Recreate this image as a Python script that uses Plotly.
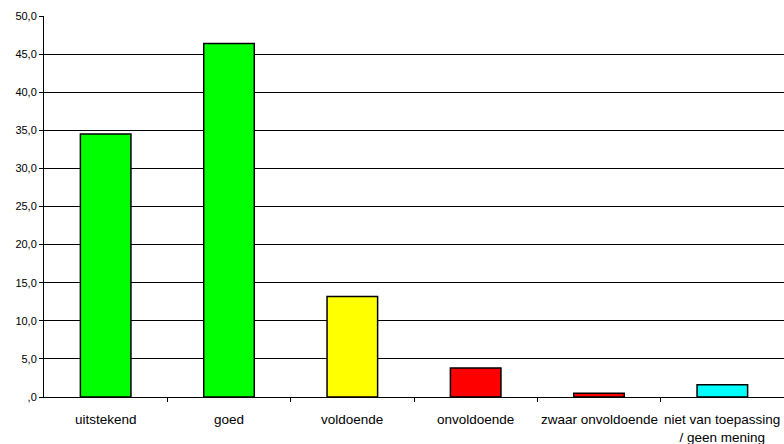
import plotly.graph_objects as go

# Survey ratings (percent of respondents)
categories = ["uitstekend", "goed", "voldoende", "onvoldoende",
              "zwaar onvoldoende", "niet van toepassing<br>/ geen mening"]
percentages = [34.5, 46.4, 13.2, 3.8, 0.5, 1.6]
bar_colors = ["#00FF00", "#00FF00", "#FFFF00", "#FF0000", "#FF0000", "#00FFFF"]

y_ticks = [0, 5, 10, 15, 20, 25, 30, 35, 40, 45, 50]
y_tick_labels = [",0", "5,0", "10,0", "15,0", "20,0", "25,0",
                 "30,0", "35,0", "40,0", "45,0", "50,0"]

fig = go.Figure(
    go.Bar(
        x=categories,
        y=percentages,
        marker=dict(color=bar_colors, line=dict(color="black", width=1.5)),
        width=0.41,
        hoverinfo="x+y",
    )
)

font_family = "Liberation Sans, Arial, sans-serif"

fig.update_layout(
    width=784,
    height=444,
    margin=dict(l=44, r=0, t=16, b=47),
    paper_bgcolor="white",
    plot_bgcolor="white",
    showlegend=False,
    font=dict(family=font_family, size=11, color="black"),
    xaxis=dict(
        showline=True,
        linecolor="black",
        linewidth=1,
        ticks="outside",
        ticklen=4,
        tickcolor="black",
        tickmode="array",
        tickvals=[i + 0.5 for i in range(len(categories) - 1)],
        ticktext=[""] * (len(categories) - 1),
        range=[-0.5, len(categories) - 0.5],
        showgrid=False,
        fixedrange=True,
    ),
    yaxis=dict(
        range=[0, 50],
        tickmode="array",
        tickvals=y_ticks,
        ticktext=y_tick_labels,
        showline=True,
        linecolor="black",
        linewidth=1,
        ticks="outside",
        ticklen=4,
        tickcolor="black",
        showgrid=True,
        gridcolor="black",
        gridwidth=1,
        zeroline=False,
        tickfont=dict(size=11),
        fixedrange=True,
    ),
)

# Category labels placed under each bar
for i, label in enumerate(categories):
    fig.add_annotation(
        x=i, y=0, xref="x", yref="y",
        text=label, showarrow=False,
        yanchor="top", yshift=-13,
        font=dict(family=font_family, size=13.5, color="black"),
    )

fig.write_html("out.html")
